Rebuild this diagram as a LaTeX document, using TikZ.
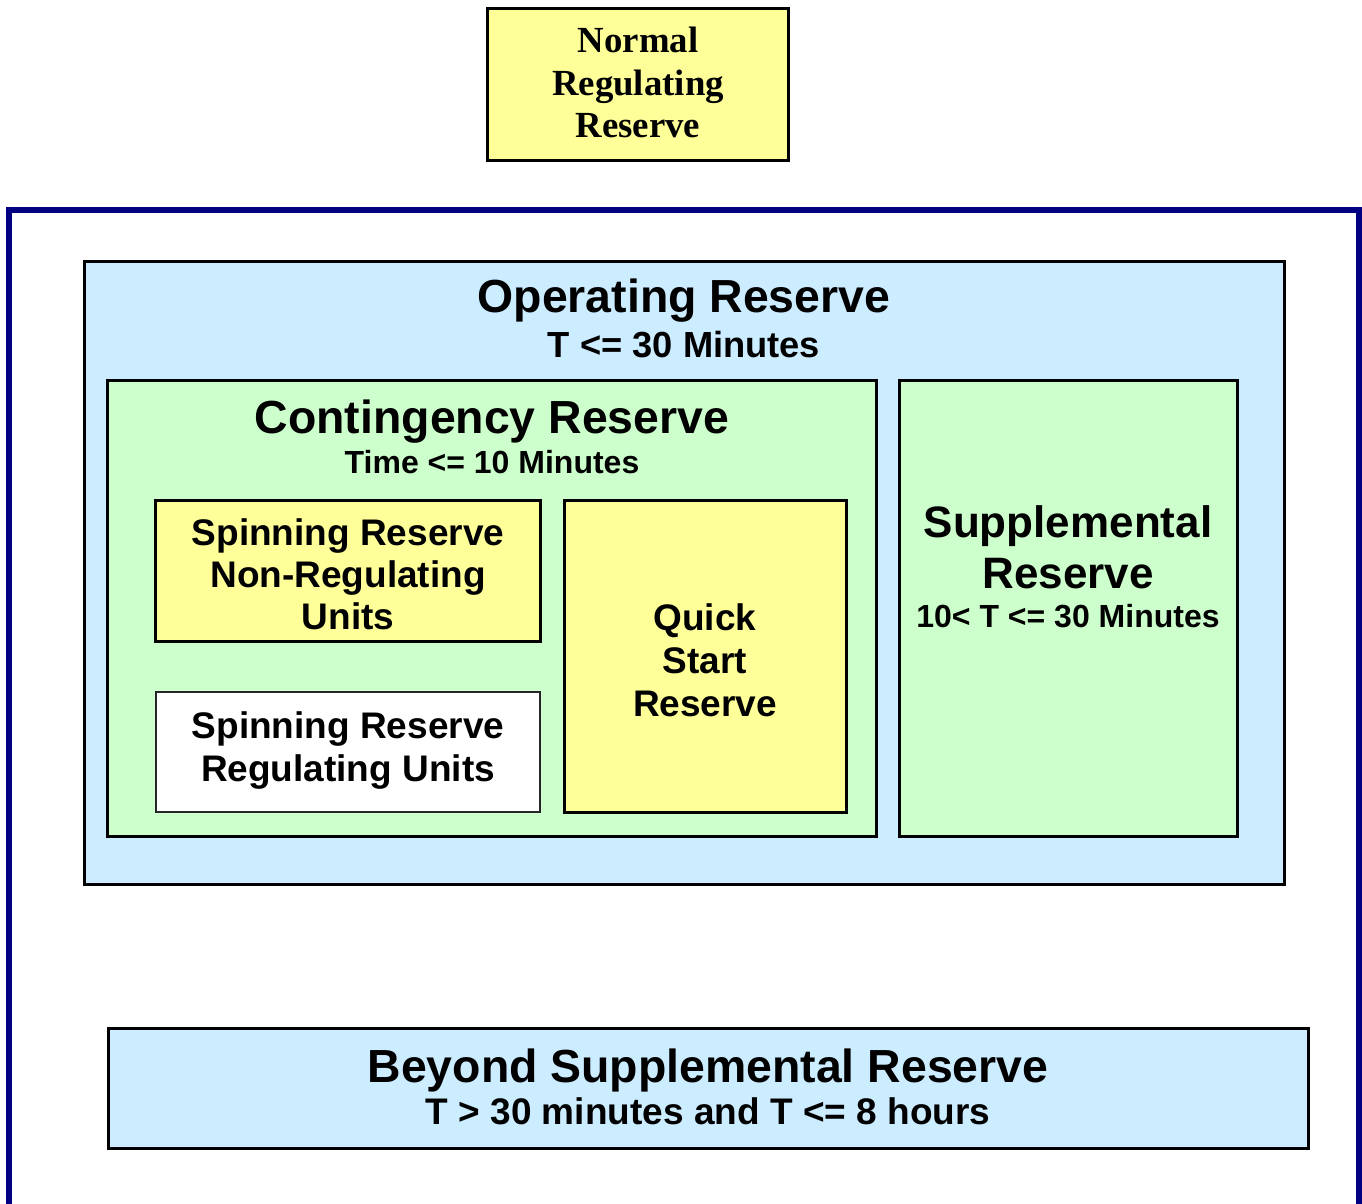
\documentclass[tikz,border=0pt]{standalone}
\usepackage{fontspec}
\setmainfont{Liberation Serif}
\setsansfont{Liberation Sans}
\definecolor{paleyellow}{HTML}{FFFF99}
\definecolor{paleblue}{HTML}{CCECFF}
\definecolor{palegreen}{HTML}{CCFFCC}
\definecolor{framenavy}{HTML}{000080}
\newcommand{\fs}[1]{\fontsize{#1}{#1}\selectfont}
\begin{document}
\begin{tikzpicture}[x=1pt,y=-1pt,
  boxline/.style={draw=black,line width=3pt},
  thinline/.style={draw=black!85,line width=1.6pt},
  lbl/.style={anchor=base,inner sep=0pt,font=\sffamily\bfseries},
  serlbl/.style={anchor=base,inner sep=0pt,font=\rmfamily\bfseries\fs{36.8}},
  big/.style={lbl,font=\sffamily\bfseries\fs{46.4}},
  mid/.style={lbl,font=\sffamily\bfseries\fs{37}},
  small/.style={lbl,font=\sffamily\bfseries\fs{32}}]
\useasboundingbox (0,0) rectangle (1362,1203);
\fill[white] (0,0) rectangle (1362,1203);

% open navy frame running off the bottom edge
\draw[framenavy,line width=6pt,line join=miter] (9,1215) -- (9,210) -- (1359,210) -- (1359,1215);

% top box
\path[boxline,fill=paleyellow] (487,8) rectangle (788,160);
\node[serlbl] (nrr1) at (638,52) {Normal};
\node[serlbl] (nrr2) at (638,95) {Regulating};
\node[serlbl] (nrr3) at (638,137) {Reserve};

% operating reserve
\path[boxline,fill=paleblue] (84,261) rectangle (1284,884);
\node[big] (op1) at (684,312) {Operating Reserve};
\node[mid,font=\sffamily\bfseries\fs{36.3}] (op2) at (684,357) {T <= 30 Minutes};

% contingency reserve
\path[boxline,fill=palegreen] (107,380) rectangle (876,836);
\node[big] (cr1) at (492,433) {Contingency Reserve};
\node[small] (cr2) at (492,473) {Time <= 10 Minutes};

% spinning reserve, non-regulating units
\path[boxline,fill=paleyellow] (155,500) rectangle (540,641);
\node[mid] (snr1) at (348,545) {Spinning Reserve};
\node[mid] (snr2) at (348,587) {Non-Regulating};
\node[mid] (snr3) at (348,629) {Units};

% spinning reserve, regulating units
\path[thinline,fill=white] (156,692) rectangle (540,812);
\node[mid] (sr1) at (348,738) {Spinning Reserve};
\node[mid] (sr2) at (348,781) {Regulating Units};

% quick start reserve
\path[boxline,fill=paleyellow] (564,500) rectangle (846,812);
\node[mid] (qs1) at (705,630) {Quick};
\node[mid] (qs2) at (705,673) {Start};
\node[mid] (qs3) at (705,716) {Reserve};

% supplemental reserve
\path[boxline,fill=palegreen] (899,380) rectangle (1237,836);
\node[lbl,font=\sffamily\bfseries\fs{44}] (sup1) at (1068,537) {Supplemental};
\node[lbl,font=\sffamily\bfseries\fs{44}] (sup2) at (1068,588) {Reserve};
\node[small] (sup3) at (1068,627) {10< T <= 30 Minutes};

% beyond supplemental reserve
\path[boxline,fill=paleblue] (108,1028) rectangle (1308,1148);
\node[big] (bs1) at (708,1082) {Beyond Supplemental Reserve};
\node[mid] (bs2) at (708,1124) {T > 30 minutes and T <= 8 hours};
\end{tikzpicture}
\end{document}
